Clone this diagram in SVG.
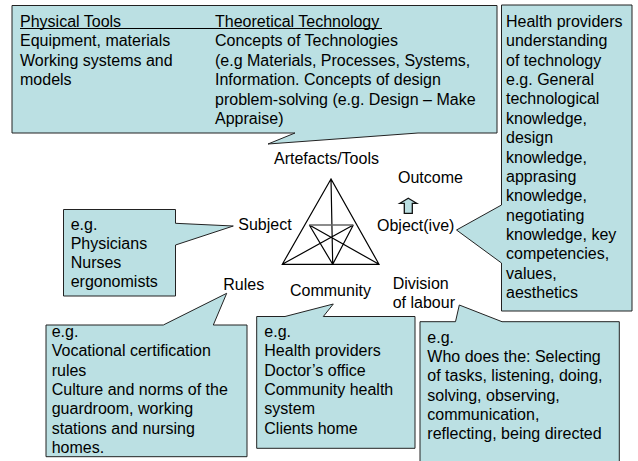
<svg xmlns="http://www.w3.org/2000/svg" width="638" height="461" viewBox="0 0 638 461">
<style>
.bx{fill:#BBE0E3;stroke:#222;stroke-width:1}
.t{font-family:"Liberation Sans",Arial,sans-serif;font-size:16px;fill:#000}
.tri{fill:none;stroke:#000;stroke-width:1.2}
</style>
<rect width="638" height="461" fill="#fff"/>
<g id="connectors">
<g id="activity-triangle">
<path class="tri" d="M331,179 L282.3,264.3 L379,264.3 Z M331,179 L332.7,264.3 M282.3,264.3 L353.3,225 M379,264.3 L309.3,225 M309.3,225 L332.7,264.3 M353.3,225 L332.7,264.3"/>
<line x1="309.3" y1="225" x2="353.3" y2="225" stroke="#666" stroke-width="1.6"/>
</g>
<path id="outcome-arrow" d="M408.3,198.3 L416.7,203.3 L412.3,203.3 L412.3,213.3 L404.3,213.3 L404.3,203.3 L399.9,203.3 Z" fill="#BBE0E3" stroke="#111" stroke-width="1.3" stroke-linejoin="miter"/>
</g>
<g id="node-tools">
<path class="bx" d="M12,5.5 H497 V133 H418 L268,144 L295,133 H12 Z"/>
<text class="t" x="20" y="26.5">Physical Tools</text>
<text class="t" x="215" y="26.5">Theoretical Technology</text>
<line x1="20" y1="28.5" x2="382" y2="28.5" stroke="#000" stroke-width="1"/>
<text class="t"><tspan x="20" y="46">Equipment, materials</tspan><tspan x="20" y="65.5">Working systems and</tspan><tspan x="20" y="85">models</tspan></text>
<text class="t"><tspan x="215" y="46">Concepts of Technologies</tspan><tspan x="215" y="65.5">(e.g Materials, Processes, Systems,</tspan><tspan x="215" y="85">Information. Concepts of design</tspan><tspan x="215" y="104.5">problem-solving (e.g. Design – Make</tspan><tspan x="215" y="124">Appraise)</tspan></text>
</g>
<g id="node-object">
<path class="bx" d="M501.5,5 H632 V311 H501.5 V263 L456.5,230 L501.5,205 Z"/>
<text class="t"><tspan x="506" y="27">Health providers</tspan><tspan x="506" y="46.4">understanding</tspan><tspan x="506" y="65.7">of technology</tspan><tspan x="506" y="85.1">e.g. General</tspan><tspan x="506" y="104.4">technological</tspan><tspan x="506" y="123.8">knowledge,</tspan><tspan x="506" y="143.2">design</tspan><tspan x="506" y="162.5">knowledge,</tspan><tspan x="506" y="181.9">apprasing</tspan><tspan x="506" y="201.2">knowledge,</tspan><tspan x="506" y="220.6">negotiating</tspan><tspan x="506" y="240">knowledge, key</tspan><tspan x="506" y="259.3">competencies,</tspan><tspan x="506" y="278.7">values,</tspan><tspan x="506" y="298">aesthetics</tspan></text>
</g>
<g id="node-subject">
<path class="bx" d="M63.5,209.5 H175.5 V223.3 L233.3,226 L175.5,245 V296 H63.5 Z"/>
<text class="t"><tspan x="70.7" y="229.5">e.g.</tspan><tspan x="70.7" y="248.5">Physicians</tspan><tspan x="70.7" y="267.5">Nurses</tspan><tspan x="70.7" y="286.7">ergonomists</tspan></text>
</g>
<g id="node-rules">
<path class="bx" d="M46,325 H163.3 L226.7,293.3 L213.3,325 H247 V456.7 H46 Z"/>
<text class="t"><tspan x="51.7" y="337">e.g.</tspan><tspan x="51.7" y="356.3">Vocational certification</tspan><tspan x="51.7" y="375.6">rules</tspan><tspan x="51.7" y="394.9">Culture and norms of the</tspan><tspan x="51.7" y="414.2">guardroom, working</tspan><tspan x="51.7" y="433.5">stations and nursing</tspan><tspan x="51.7" y="452.8">homes.</tspan></text>
</g>
<g id="node-community">
<path class="bx" d="M256.7,316.5 H285 L333.3,304 L323.3,316.5 H415 V448.3 H256.7 Z"/>
<text class="t"><tspan x="264.3" y="337">e.g.</tspan><tspan x="264.3" y="356.3">Health providers</tspan><tspan x="264.3" y="375.6">Doctor’s office</tspan><tspan x="264.3" y="394.9">Community health</tspan><tspan x="264.3" y="414.2">system</tspan><tspan x="264.3" y="433.5">Clients home</tspan></text>
</g>
<g id="node-division">
<path class="bx" d="M420,321.7 H455.5 L459.3,305 L502,321.7 H619.3 V470 H420 Z"/>
<text class="t"><tspan x="427.3" y="343">e.g.</tspan><tspan x="427.3" y="362.2">Who does the: Selecting</tspan><tspan x="427.3" y="381.4">of tasks, listening, doing,</tspan><tspan x="427.3" y="400.6">solving, observing,</tspan><tspan x="427.3" y="419.8">communication,</tspan><tspan x="427.3" y="439">reflecting, being directed</tspan></text>
</g>
<g id="labels">
<text class="t" x="274" y="164">Artefacts/Tools</text>
<text class="t" x="398" y="183">Outcome</text>
<text class="t" x="238.3" y="230">Subject</text>
<text class="t" x="377" y="231">Object(ive)</text>
<text class="t" x="223.3" y="290">Rules</text>
<text class="t" x="290" y="296">Community</text>
<text class="t" x="392.7" y="289">Division</text>
<text class="t" x="392.7" y="308.3">of labour</text>
</g>
</svg>
